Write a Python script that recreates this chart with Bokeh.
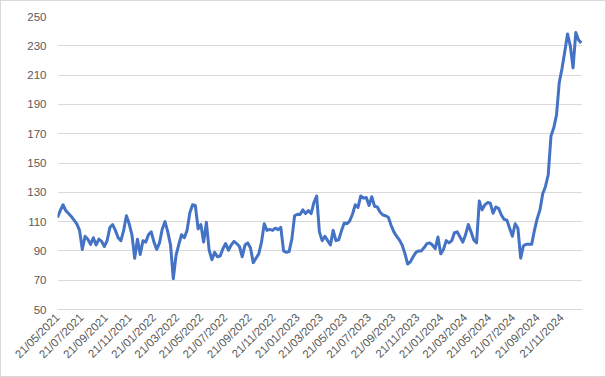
import math
import pandas as pd
from bokeh.plotting import figure
from bokeh.models import ColumnDataSource, Range1d, FixedTicker, DatetimeTickFormatter
from bokeh.embed import file_html
from bokeh.resources import INLINE

start_date = "2021-05-21"
values = [
    112.8, 117.5, 121.5, 117.5, 115.5, 113.5, 111, 108.5, 104, 91,
    100, 98, 94.5, 99, 94, 98, 96.5, 93, 97, 106,
    108, 104, 99, 97, 104, 114, 108.5, 101, 85, 98,
    87.5, 97, 96, 101, 103, 96, 91, 95.5, 105, 110,
    103, 94, 71, 87, 94.4, 101, 99, 104, 116, 121.5,
    121, 105, 108, 96, 109.5, 90.5, 84, 89, 86, 86.5,
    91.5, 95, 90.5, 94, 96.5, 95, 93, 86, 94, 95.5,
    92, 82, 85, 88, 96, 108.5, 104, 104.7, 104, 105.5,
    104.5, 106, 90, 89, 89.5, 98, 114, 115, 114.8, 118,
    115.5, 117.5, 115.5, 123, 127.5, 103, 97, 100, 97, 94,
    104, 97, 97.5, 103.7, 109, 108.5, 110.5, 115, 121.5, 119.7,
    127.5, 126, 126.5, 121, 127, 120.5, 120, 116.5, 114.5, 114,
    113, 107.5, 103, 100, 97.5, 94, 88.3, 81, 82.5, 86,
    89, 90, 90, 92.3, 95, 95.5, 94, 91.5, 99.5, 88,
    91, 97, 95.5, 97, 102.5, 103, 99.5, 96, 101, 108,
    103, 97.5, 95.5, 124, 118, 121.4, 123, 122.5, 115.7, 120,
    119, 114.5, 111.5, 111, 105.5, 100, 108.5, 105.5, 85, 93.5,
    94.5, 94.5, 94.5, 104, 112, 118, 129, 134, 142, 168.5,
    174, 182.7, 205, 214.5, 226, 238, 230, 215, 239, 234, 232,
]
tick_dates = [
    "2021-05-21", "2021-07-21", "2021-09-21", "2021-11-21", "2022-01-21",
    "2022-03-21", "2022-05-21", "2022-07-21", "2022-09-21", "2022-11-21",
    "2023-01-21", "2023-03-21", "2023-05-21", "2023-07-21", "2023-09-21",
    "2023-11-21", "2024-01-21", "2024-03-21", "2024-05-21", "2024-07-21",
    "2024-09-21", "2024-11-21",
]
y_ticks = [50, 70, 90, 110, 130, 150, 170, 190, 210, 230, 250]

dates = pd.date_range(start_date, periods=len(values), freq="7D")
src = ColumnDataSource(dict(x=dates, y=values))

x_start = pd.Timestamp(start_date)
x_end = dates[-1] + pd.Timedelta(days=3)

p = figure(width=606, height=377, output_backend="svg", toolbar_location=None,
           x_axis_type="datetime",
           x_range=Range1d(x_start, x_end), y_range=Range1d(50, 250),
           min_border_left=56, min_border_right=25, min_border_top=15, min_border_bottom=69)
p.outline_line_color = None
p.background_fill_color = "white"
p.border_fill_color = "white"
p.styles = {"border": "1px solid #d9d9d9", "box-sizing": "border-box"}

p.line("x", "y", source=src, line_color="#4472C4", line_width=3, line_join="round")

tick_ms = [pd.Timestamp(d).value // 10**6 for d in tick_dates]
p.xaxis.ticker = FixedTicker(ticks=tick_ms)
fmt = "%d/%m/%Y"
p.xaxis.formatter = DatetimeTickFormatter(milliseconds=fmt, seconds=fmt, minsec=fmt, minutes=fmt,
                                          hourmin=fmt, hours=fmt, days=fmt, months=fmt, years=fmt)
p.xaxis.major_label_orientation = math.pi / 4
p.yaxis.ticker = FixedTicker(ticks=y_ticks)

for ax in (p.xaxis[0], p.yaxis[0]):
    ax.major_tick_line_color = None
    ax.minor_tick_line_color = None
    ax.major_tick_out = 0
    ax.major_tick_in = 0
    ax.major_label_text_color = "#595959"
    ax.major_label_text_font = "Liberation Sans"
    ax.major_label_text_font_size = "11.5px"
p.yaxis.axis_line_color = None
p.xaxis.axis_line_color = "#d9d9d9"
p.yaxis.major_label_standoff = 11
p.xaxis.major_label_standoff = 6

p.xgrid.grid_line_color = None
p.ygrid.grid_line_color = "#d9d9d9"
p.ygrid.grid_line_width = 1

open("out.html", "w").write(file_html(p, INLINE))
